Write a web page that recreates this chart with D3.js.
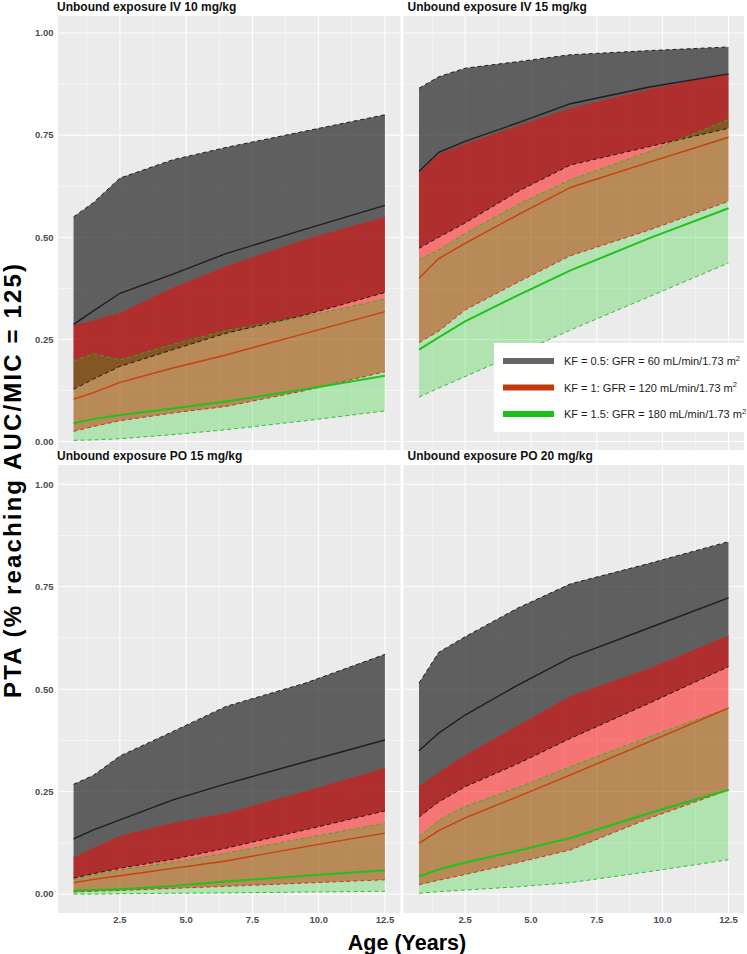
<!DOCTYPE html>
<html>
<head>
<meta charset="utf-8">
<script src="https://cdnjs.cloudflare.com/ajax/libs/d3/7.8.5/d3.min.js"></script>
<style>
	body { margin: 0; background: #fff; }
	text { font-family: "Liberation Sans", Arial, Helvetica, sans-serif; }
</style>
</head>
<body>
<div id="chart"></div>
<script>
// ages (years) where the PTA was simulated
const ages = [0.75, 1.5, 2.5, 4.5, 6.5, 9.5, 12.5]

const panelTitles = [
	"Unbound exposure IV 10 mg/kg",
	"Unbound exposure IV 15 mg/kg",
	"Unbound exposure PO 15 mg/kg",
	"Unbound exposure PO 20 mg/kg"
]

const xTicks = [2.5, 5, 7.5, 10, 12.5]
const yTicks = [0, 0.25, 0.5, 0.75, 1]

const groupLabels = [
	"KF = 0.5: GFR = 60 mL/min/1.73 m",
	"KF = 1: GFR = 120 mL/min/1.73 m",
	"KF = 1.5: GFR = 180 mL/min/1.73 m"
]

// IV 10 mg/kg
const iv10_kf05_lo = [0.128, 0.153, 0.184, 0.225, 0.265, 0.310, 0.365]
const iv10_kf05_med = [0.287, 0.320, 0.363, 0.410, 0.460, 0.520, 0.578]
const iv10_kf05_hi = [0.550, 0.585, 0.645, 0.690, 0.720, 0.760, 0.800]
const iv10_kf1_lo = [0.025, 0.037, 0.051, 0.070, 0.086, 0.125, 0.171]
const iv10_kf1_med = [0.104, 0.120, 0.145, 0.180, 0.212, 0.265, 0.318]
const iv10_kf1_hi = [0.284, 0.296, 0.314, 0.376, 0.428, 0.494, 0.549]
const iv10_kf15_lo = [0.003, 0.004, 0.007, 0.017, 0.029, 0.051, 0.075]
const iv10_kf15_med = [0.045, 0.055, 0.065, 0.081, 0.098, 0.128, 0.161]
const iv10_kf15_hi = [0.197, 0.215, 0.200, 0.238, 0.272, 0.306, 0.349]

// IV 15 mg/kg
const iv15_kf05_lo = [0.473, 0.500, 0.535, 0.612, 0.677, 0.722, 0.767]
const iv15_kf05_med = [0.661, 0.708, 0.735, 0.780, 0.827, 0.868, 0.900]
const iv15_kf05_hi = [0.865, 0.893, 0.914, 0.930, 0.947, 0.957, 0.966]
const iv15_kf1_lo = [0.242, 0.270, 0.322, 0.390, 0.455, 0.518, 0.588]
const iv15_kf1_med = [0.400, 0.448, 0.485, 0.555, 0.622, 0.684, 0.745]
const iv15_kf1_hi = [0.655, 0.703, 0.728, 0.772, 0.815, 0.862, 0.900]
const iv15_kf15_lo = [0.109, 0.131, 0.159, 0.216, 0.273, 0.355, 0.437]
const iv15_kf15_med = [0.225, 0.255, 0.294, 0.358, 0.419, 0.498, 0.571]
const iv15_kf15_hi = [0.445, 0.469, 0.510, 0.580, 0.641, 0.710, 0.788]

// PO 15 mg/kg
const po15_kf05_lo = [0.039, 0.050, 0.063, 0.085, 0.112, 0.157, 0.203]
const po15_kf05_med = [0.135, 0.157, 0.181, 0.230, 0.269, 0.323, 0.376]
const po15_kf05_hi = [0.268, 0.290, 0.337, 0.397, 0.458, 0.515, 0.585]
const po15_kf1_lo = [0.005, 0.007, 0.009, 0.014, 0.019, 0.027, 0.035]
const po15_kf1_med = [0.028, 0.036, 0.045, 0.063, 0.081, 0.116, 0.149]
const po15_kf1_hi = [0.089, 0.112, 0.141, 0.173, 0.197, 0.250, 0.307]
const po15_kf15_lo = [0.000, 0.000, 0.001, 0.002, 0.003, 0.005, 0.007]
const po15_kf15_med = [0.008, 0.010, 0.012, 0.020, 0.031, 0.045, 0.058]
const po15_kf15_hi = [0.036, 0.047, 0.059, 0.078, 0.100, 0.137, 0.173]

// PO 20 mg/kg
const po20_kf05_lo = [0.188, 0.225, 0.262, 0.318, 0.380, 0.466, 0.555]
const po20_kf05_med = [0.350, 0.393, 0.437, 0.510, 0.577, 0.650, 0.723]
const po20_kf05_hi = [0.515, 0.590, 0.628, 0.698, 0.757, 0.807, 0.860]
const po20_kf1_lo = [0.023, 0.034, 0.048, 0.077, 0.108, 0.185, 0.254]
const po20_kf1_med = [0.124, 0.155, 0.186, 0.238, 0.291, 0.372, 0.454]
const po20_kf1_hi = [0.262, 0.296, 0.338, 0.410, 0.482, 0.550, 0.630]
const po20_kf15_lo = [0.002, 0.006, 0.010, 0.018, 0.028, 0.055, 0.084]
const po20_kf15_med = [0.043, 0.060, 0.077, 0.106, 0.137, 0.198, 0.254]
const po20_kf15_hi = [0.140, 0.180, 0.214, 0.260, 0.311, 0.384, 0.454]

// building the table for the panels
const panelData = [
	[[iv10_kf05_lo, iv10_kf05_med, iv10_kf05_hi], [iv10_kf1_lo, iv10_kf1_med, iv10_kf1_hi], [iv10_kf15_lo, iv10_kf15_med, iv10_kf15_hi]],
	[[iv15_kf05_lo, iv15_kf05_med, iv15_kf05_hi], [iv15_kf1_lo, iv15_kf1_med, iv15_kf1_hi], [iv15_kf15_lo, iv15_kf15_med, iv15_kf15_hi]],
	[[po15_kf05_lo, po15_kf05_med, po15_kf05_hi], [po15_kf1_lo, po15_kf1_med, po15_kf1_hi], [po15_kf15_lo, po15_kf15_med, po15_kf15_hi]],
	[[po20_kf05_lo, po20_kf05_med, po20_kf05_hi], [po20_kf1_lo, po20_kf1_med, po20_kf1_hi], [po20_kf15_lo, po20_kf15_med, po20_kf15_hi]]
]

// styles per group: ribbon fill, dashed edge colour, median line
const fills = ["#333333", "#ff0000", "#00cc00"]
const fillOpacity = [0.76, 0.5, 0.25]
const edgeColors = ["#111111", "#d42020", "#22b822"]
const medianColors = ["#1e1e1e", "#c8400c", "#1fc21f"]
const medianWidths = [1.4, 1.4, 2]
const keyColors = ["#666666", "#c2390d", "#17c417"]

const svgWidth = 747
const svgHeight = 954

let svg = d3
	.select("#chart")
	.append("svg")
	.attr("width", svgWidth)
	.attr("height", svgHeight)

// column x scales and row y scales
let xScales = [
	d3.scaleLinear().domain([0.1625, 13.0875]).range([58, 400.5]),
	d3.scaleLinear().domain([0.1625, 13.0875]).range([403.5, 744])
]
let yScales = [
	d3.scaleLinear().domain([-0.0206, 1.0417]).range([450, 16]),
	d3.scaleLinear().domain([-0.046, 1.047]).range([913, 465])
]

let defs = svg.append("defs")

panelData.forEach((groups, p) => {
	let col = p % 2
	let row = Math.floor(p / 2)
	let x = xScales[col]
	let y = yScales[row]
	let [x0, x1] = x.range()
	let [y0, y1] = y.range()

	let panel = svg.append("g")

	// panel background
	panel.append("rect")
		.attr("x", x0)
		.attr("y", y1)
		.attr("width", x1 - x0)
		.attr("height", y0 - y1)
		.attr("fill", "#ebebeb")

	// minor grid
	let xMinor = xTicks.map(t => t - 1.25)
	let yMinor = yTicks.slice(0, 4).map(t => t + 0.125)
	panel.selectAll(".xminor")
		.data(xMinor)
		.enter()
		.append("line")
		.attr("x1", d => x(d)).attr("x2", d => x(d))
		.attr("y1", y1).attr("y2", y0)
		.attr("stroke", "#fff").attr("stroke-width", 0.5)
	panel.selectAll(".yminor")
		.data(yMinor)
		.enter()
		.append("line")
		.attr("x1", x0).attr("x2", x1)
		.attr("y1", d => y(d)).attr("y2", d => y(d))
		.attr("stroke", "#fff").attr("stroke-width", 0.5)

	// major grid
	panel.selectAll(".xmajor")
		.data(xTicks)
		.enter()
		.append("line")
		.attr("x1", d => x(d)).attr("x2", d => x(d))
		.attr("y1", y1).attr("y2", y0)
		.attr("stroke", "#fff").attr("stroke-width", 1)
	panel.selectAll(".ymajor")
		.data(yTicks)
		.enter()
		.append("line")
		.attr("x1", x0).attr("x2", x1)
		.attr("y1", d => y(d)).attr("y2", d => y(d))
		.attr("stroke", "#fff").attr("stroke-width", 1)

	// clip path for the panel
	defs.append("clipPath")
		.attr("id", "clip" + p)
		.append("rect")
		.attr("x", x0).attr("y", y1)
		.attr("width", x1 - x0).attr("height", y0 - y1)

	let plot = panel.append("g").attr("clip-path", `url(#clip${p})`)

	let area = d3.area()
		.x((d, i) => x(ages[i]))
		.y0(d => y(d[0]))
		.y1(d => y(d[1]))
	let line = d3.line()
		.x((d, i) => x(ages[i]))
		.y(d => y(d))

	// ribbons
	groups.forEach((g, k) => {
		let pairs = g[0].map((lo, i) => [lo, g[2][i]])
		plot.append("path")
			.attr("d", area(pairs))
			.attr("fill", fills[k])
			.attr("fill-opacity", fillOpacity[k])
	})

	// dashed ribbon edges
	groups.forEach((g, k) => {
		[g[0], g[2]].forEach(edge => {
			plot.append("path")
				.attr("d", line(edge))
				.attr("fill", "none")
				.attr("stroke", edgeColors[k])
				.attr("stroke-width", 0.9)
				.attr("stroke-dasharray", "4,3")
		})
	})

	// median lines
	groups.forEach((g, k) => {
		plot.append("path")
			.attr("d", line(g[1]))
			.attr("fill", "none")
			.attr("stroke", medianColors[k])
			.attr("stroke-width", medianWidths[k])
	})

	// panel title
	svg.append("text")
		.attr("x", col === 0 ? x0 - 1 : x0 + 4)
		.attr("y", y1 - 5)
		.attr("font-size", "12px")
		.attr("font-weight", "bold")
		.attr("fill", "#111")
		.text(panelTitles[p])

	// y tick labels on the left column
	if (col === 0) {
		panel.selectAll(".ylab")
			.data(yTicks)
			.enter()
			.append("text")
			.attr("x", x0 - 4.5)
			.attr("y", d => y(d) + 3.3)
			.attr("text-anchor", "end")
			.attr("font-size", "9.5px")
			.attr("font-weight", "bold")
			.attr("fill", "#4d4d4d")
			.text(d => d3.format(".2f")(d))
	}

	// x tick labels on the bottom row
	if (row === 1) {
		panel.selectAll(".xlab")
			.data(xTicks)
			.enter()
			.append("text")
			.attr("x", d => x(d))
			.attr("y", y0 + 9.5)
			.attr("text-anchor", "middle")
			.attr("font-size", "9.5px")
			.attr("font-weight", "bold")
			.attr("fill", "#4d4d4d")
			.text(d => d3.format(".1f")(d))
	}
})

// axis titles
svg.append("text")
	.attr("x", 407)
	.attr("y", 950)
	.attr("text-anchor", "middle")
	.attr("font-size", "21.5px")
	.attr("font-weight", "bold")
	.text("Age (Years)")

svg.append("text")
	.attr("transform", "translate(21, 481) rotate(-90)")
	.attr("text-anchor", "middle")
	.attr("font-size", "24px")
	.attr("font-weight", "bold")
	.attr("textLength", 434)
	.attr("lengthAdjust", "spacing")
	.text("PTA (% reaching AUC/MIC = 125)")

// legend
let legend = svg.append("g")

legend.append("rect")
	.attr("x", 494)
	.attr("y", 343)
	.attr("width", 253)
	.attr("height", 89)
	.attr("fill", "#fff")

groupLabels.forEach((label, k) => {
	let ly = 361 + k * 26.5
	legend.append("line")
		.attr("x1", 503).attr("x2", 554)
		.attr("y1", ly).attr("y2", ly)
		.attr("stroke", keyColors[k])
		.attr("stroke-width", 6)
	let t = legend.append("text")
		.attr("x", 564)
		.attr("y", ly + 4)
		.attr("font-size", "11px")
		.attr("fill", "#1a1a1a")
		.text(label)
	t.append("tspan")
		.attr("dy", -4.5)
		.attr("font-size", "7.5px")
		.text("2")
})
</script>
</body>
</html>
